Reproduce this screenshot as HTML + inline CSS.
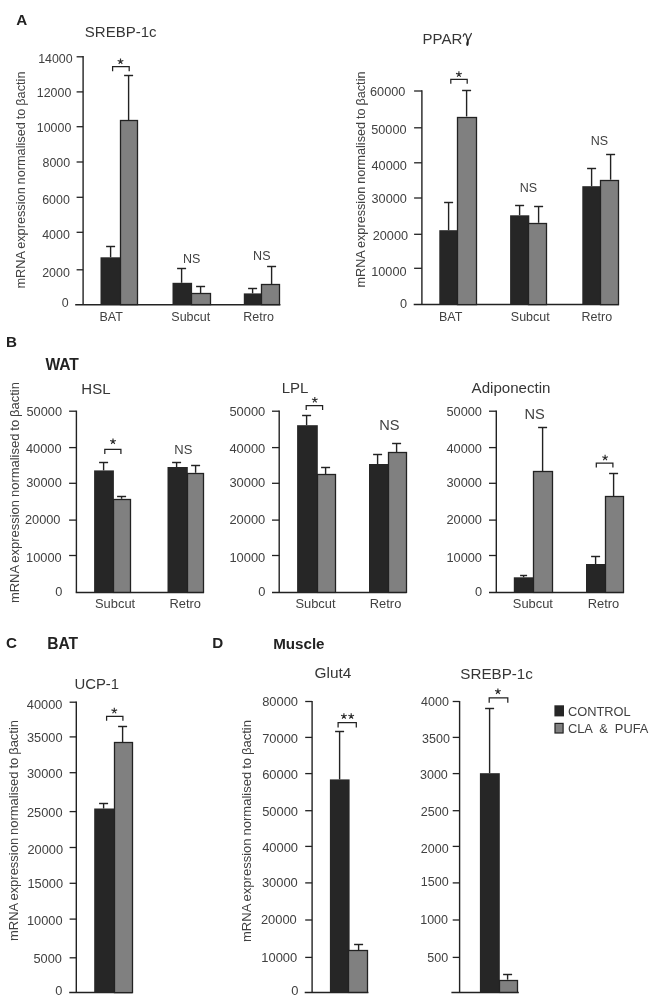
<!DOCTYPE html>
<html><head><meta charset="utf-8"><title>Figure</title>
<style>
html,body{margin:0;padding:0;background:#fff;}
svg{display:block;will-change:transform;font-family:"Liberation Sans",sans-serif;}
</style></head>
<body>
<svg width="658" height="1000" viewBox="0 0 658 1000">
<rect width="658" height="1000" fill="#fff"/>
<text x="16.2" y="24.8" font-size="15.2" text-anchor="start" font-weight="bold" fill="#222222" >A</text>
<text x="84.8" y="37.3" font-size="15" text-anchor="start" font-weight="normal" fill="#363636" >SREBP-1c</text>
<line x1="83.1" y1="56.1" x2="83.1" y2="304.7" stroke="#222222" stroke-width="1.4"/>
<line x1="76.6" y1="56.8" x2="83.1" y2="56.8" stroke="#222222" stroke-width="1.3"/>
<line x1="76.6" y1="91.9" x2="83.1" y2="91.9" stroke="#222222" stroke-width="1.3"/>
<line x1="76.6" y1="126.7" x2="83.1" y2="126.7" stroke="#222222" stroke-width="1.3"/>
<line x1="76.6" y1="162.0" x2="83.1" y2="162.0" stroke="#222222" stroke-width="1.3"/>
<line x1="76.6" y1="197.3" x2="83.1" y2="197.3" stroke="#222222" stroke-width="1.3"/>
<line x1="76.6" y1="232.3" x2="83.1" y2="232.3" stroke="#222222" stroke-width="1.3"/>
<line x1="76.6" y1="269.8" x2="83.1" y2="269.8" stroke="#222222" stroke-width="1.3"/>
<line x1="75.2" y1="304.7" x2="280.4" y2="304.7" stroke="#222222" stroke-width="1.5"/>
<text x="72.6" y="62.8" font-size="12.4" text-anchor="end" font-weight="normal" fill="#414141" >14000</text>
<text x="71.3" y="96.5" font-size="12.4" text-anchor="end" font-weight="normal" fill="#414141" >12000</text>
<text x="71.3" y="131.7" font-size="12.4" text-anchor="end" font-weight="normal" fill="#414141" >10000</text>
<text x="70.1" y="167.0" font-size="12.4" text-anchor="end" font-weight="normal" fill="#414141" >8000</text>
<text x="69.8" y="203.6" font-size="12.4" text-anchor="end" font-weight="normal" fill="#414141" >6000</text>
<text x="69.8" y="238.8" font-size="12.4" text-anchor="end" font-weight="normal" fill="#414141" >4000</text>
<text x="69.8" y="277.1" font-size="12.4" text-anchor="end" font-weight="normal" fill="#414141" >2000</text>
<text x="68.7" y="306.9" font-size="12.4" text-anchor="end" font-weight="normal" fill="#414141" >0</text>
<text transform="translate(25.0 180.0) rotate(-90)" font-size="12" word-spacing="-0.6" text-anchor="middle" fill="#414141" textLength="217" lengthAdjust="spacingAndGlyphs">mRNA expression normalised to βactin</text>
<rect x="100.5" y="257.3" width="20.2" height="47.3" fill="#262626"/>
<rect x="120.5" y="120.5" width="17.0" height="184.1" fill="#808080" stroke="#222222" stroke-width="1.3"/>
<line x1="110.6" y1="246.5" x2="110.6" y2="257.3" stroke="#222222" stroke-width="1.4"/>
<line x1="106.1" y1="246.5" x2="115.1" y2="246.5" stroke="#222222" stroke-width="1.45"/>
<line x1="128.6" y1="75.5" x2="128.6" y2="120.0" stroke="#222222" stroke-width="1.4"/>
<line x1="124.1" y1="75.5" x2="133.1" y2="75.5" stroke="#222222" stroke-width="1.45"/>
<path d="M112.6 71.3V66.6H129.2V71.3" fill="none" stroke="#222222" stroke-width="1.25"/>
<path d="M120.50 61.40L120.50 58.40M120.50 61.40L123.35 60.47M120.50 61.40L122.26 63.83M120.50 61.40L118.74 63.83M120.50 61.40L117.65 60.47" fill="none" stroke="#2e2e2e" stroke-width="1.15"/>
<text x="99.5" y="320.5" font-size="12.5" text-anchor="start" font-weight="normal" fill="#414141" >BAT</text>
<rect x="172.5" y="282.8" width="19.6" height="21.8" fill="#262626"/>
<rect x="191.5" y="293.5" width="19.0" height="11.1" fill="#808080" stroke="#222222" stroke-width="1.3"/>
<line x1="181.6" y1="268.5" x2="181.6" y2="282.8" stroke="#222222" stroke-width="1.4"/>
<line x1="177.1" y1="268.5" x2="186.1" y2="268.5" stroke="#222222" stroke-width="1.45"/>
<line x1="200.6" y1="286.5" x2="200.6" y2="293.4" stroke="#222222" stroke-width="1.4"/>
<line x1="196.1" y1="286.5" x2="205.1" y2="286.5" stroke="#222222" stroke-width="1.45"/>
<text x="191.6" y="262.8" font-size="12.5" text-anchor="middle" font-weight="normal" fill="#414141" >NS</text>
<text x="171.3" y="320.5" font-size="12.5" text-anchor="start" font-weight="normal" fill="#414141" >Subcut</text>
<rect x="243.8" y="293.4" width="18.7" height="11.2" fill="#262626"/>
<rect x="261.5" y="284.5" width="18.0" height="20.1" fill="#808080" stroke="#222222" stroke-width="1.3"/>
<line x1="252.6" y1="288.5" x2="252.6" y2="293.4" stroke="#222222" stroke-width="1.4"/>
<line x1="248.1" y1="288.5" x2="257.1" y2="288.5" stroke="#222222" stroke-width="1.45"/>
<line x1="271.6" y1="266.5" x2="271.6" y2="284.3" stroke="#222222" stroke-width="1.4"/>
<line x1="267.1" y1="266.5" x2="276.1" y2="266.5" stroke="#222222" stroke-width="1.45"/>
<text x="261.8" y="259.8" font-size="12.5" text-anchor="middle" font-weight="normal" fill="#414141" >NS</text>
<text x="243.3" y="320.5" font-size="12.5" text-anchor="start" font-weight="normal" fill="#414141" >Retro</text>
<text x="422.6" y="44.3" font-size="15" text-anchor="start" font-weight="normal" fill="#363636" >PPAR</text>
<path d="M463.3 36.2C463.5 33.4 465.6 32.9 466.3 35.4L467.9 41.6M471.4 33.5L467.7 41.6" fill="none" stroke="#333" stroke-width="1.25" stroke-linecap="round"/>
<path d="M467.8 39.8C469.4 42.4 468.8 45.8 467.3 46C465.7 45.8 465.9 42.4 467.8 39.8Z" fill="#222"/>
<line x1="421.9" y1="90.3" x2="421.9" y2="304.5" stroke="#222222" stroke-width="1.4"/>
<line x1="414.1" y1="91.0" x2="421.9" y2="91.0" stroke="#222222" stroke-width="1.3"/>
<line x1="414.1" y1="127.8" x2="421.9" y2="127.8" stroke="#222222" stroke-width="1.3"/>
<line x1="414.1" y1="162.8" x2="421.9" y2="162.8" stroke="#222222" stroke-width="1.3"/>
<line x1="414.1" y1="198.0" x2="421.9" y2="198.0" stroke="#222222" stroke-width="1.3"/>
<line x1="414.1" y1="234.3" x2="421.9" y2="234.3" stroke="#222222" stroke-width="1.3"/>
<line x1="414.1" y1="268.3" x2="421.9" y2="268.3" stroke="#222222" stroke-width="1.3"/>
<line x1="413.7" y1="304.5" x2="618.9" y2="304.5" stroke="#222222" stroke-width="1.5"/>
<text x="405.3" y="95.8" font-size="12.7" text-anchor="end" font-weight="normal" fill="#414141" >60000</text>
<text x="406.5" y="133.5" font-size="12.7" text-anchor="end" font-weight="normal" fill="#414141" >50000</text>
<text x="406.8" y="169.5" font-size="12.7" text-anchor="end" font-weight="normal" fill="#414141" >40000</text>
<text x="406.8" y="203.2" font-size="12.7" text-anchor="end" font-weight="normal" fill="#414141" >30000</text>
<text x="408.0" y="239.5" font-size="12.7" text-anchor="end" font-weight="normal" fill="#414141" >20000</text>
<text x="406.5" y="276.4" font-size="12.7" text-anchor="end" font-weight="normal" fill="#414141" >10000</text>
<text x="407.0" y="308.0" font-size="12.7" text-anchor="end" font-weight="normal" fill="#414141" >0</text>
<text transform="translate(365.2 179.5) rotate(-90)" font-size="12" word-spacing="-0.6" text-anchor="middle" fill="#414141" textLength="216" lengthAdjust="spacingAndGlyphs">mRNA expression normalised to βactin</text>
<rect x="439.3" y="230.2" width="18.8" height="74.4" fill="#262626"/>
<rect x="457.5" y="117.5" width="19.0" height="187.1" fill="#808080" stroke="#222222" stroke-width="1.3"/>
<line x1="448.6" y1="202.5" x2="448.6" y2="230.2" stroke="#222222" stroke-width="1.4"/>
<line x1="444.1" y1="202.5" x2="453.1" y2="202.5" stroke="#222222" stroke-width="1.45"/>
<line x1="466.6" y1="90.5" x2="466.6" y2="116.5" stroke="#222222" stroke-width="1.4"/>
<line x1="462.1" y1="90.5" x2="471.1" y2="90.5" stroke="#222222" stroke-width="1.45"/>
<path d="M450.8 83.7V79.4H467.2V83.7" fill="none" stroke="#222222" stroke-width="1.25"/>
<path d="M458.90 74.30L458.90 71.30M458.90 74.30L461.75 73.37M458.90 74.30L460.66 76.73M458.90 74.30L457.14 76.73M458.90 74.30L456.05 73.37" fill="none" stroke="#2e2e2e" stroke-width="1.15"/>
<text x="439.0" y="321.0" font-size="12.5" text-anchor="start" font-weight="normal" fill="#414141" >BAT</text>
<rect x="510.1" y="215.3" width="19.2" height="89.3" fill="#262626"/>
<rect x="528.5" y="223.5" width="18.0" height="81.1" fill="#808080" stroke="#222222" stroke-width="1.3"/>
<line x1="519.6" y1="205.5" x2="519.6" y2="215.3" stroke="#222222" stroke-width="1.4"/>
<line x1="515.1" y1="205.5" x2="524.1" y2="205.5" stroke="#222222" stroke-width="1.45"/>
<line x1="538.6" y1="206.5" x2="538.6" y2="222.8" stroke="#222222" stroke-width="1.4"/>
<line x1="534.1" y1="206.5" x2="543.1" y2="206.5" stroke="#222222" stroke-width="1.45"/>
<text x="528.5" y="192.0" font-size="12.5" text-anchor="middle" font-weight="normal" fill="#414141" >NS</text>
<text x="510.8" y="321.0" font-size="12.5" text-anchor="start" font-weight="normal" fill="#414141" >Subcut</text>
<rect x="582.3" y="186.2" width="18.8" height="118.4" fill="#262626"/>
<rect x="600.5" y="180.5" width="18.0" height="124.1" fill="#808080" stroke="#222222" stroke-width="1.3"/>
<line x1="591.6" y1="168.5" x2="591.6" y2="186.2" stroke="#222222" stroke-width="1.4"/>
<line x1="587.1" y1="168.5" x2="596.1" y2="168.5" stroke="#222222" stroke-width="1.45"/>
<line x1="610.6" y1="154.5" x2="610.6" y2="179.7" stroke="#222222" stroke-width="1.4"/>
<line x1="606.1" y1="154.5" x2="615.1" y2="154.5" stroke="#222222" stroke-width="1.45"/>
<text x="599.5" y="145.4" font-size="12.5" text-anchor="middle" font-weight="normal" fill="#414141" >NS</text>
<text x="581.6" y="321.0" font-size="12.5" text-anchor="start" font-weight="normal" fill="#414141" >Retro</text>
<text x="5.9" y="347.2" font-size="15.2" text-anchor="start" font-weight="bold" fill="#222222" >B</text>
<text x="45.4" y="370.0" font-size="15.6" text-anchor="start" font-weight="bold" fill="#222222" >WAT</text>
<text x="81.3" y="394.4" font-size="15" text-anchor="start" font-weight="normal" fill="#363636" >HSL</text>
<line x1="76.4" y1="410.6" x2="76.4" y2="592.4" stroke="#222222" stroke-width="1.4"/>
<line x1="69.1" y1="411.2" x2="76.4" y2="411.2" stroke="#222222" stroke-width="1.3"/>
<line x1="69.1" y1="447.6" x2="76.4" y2="447.6" stroke="#222222" stroke-width="1.3"/>
<line x1="69.1" y1="483.3" x2="76.4" y2="483.3" stroke="#222222" stroke-width="1.3"/>
<line x1="69.1" y1="520.1" x2="76.4" y2="520.1" stroke="#222222" stroke-width="1.3"/>
<line x1="69.1" y1="555.5" x2="76.4" y2="555.5" stroke="#222222" stroke-width="1.3"/>
<line x1="75.7" y1="592.4" x2="204.0" y2="592.4" stroke="#222222" stroke-width="1.5"/>
<text x="62.1" y="416.4" font-size="12.8" text-anchor="end" font-weight="normal" fill="#414141" >50000</text>
<text x="61.6" y="452.8" font-size="12.8" text-anchor="end" font-weight="normal" fill="#414141" >40000</text>
<text x="61.8" y="487.2" font-size="12.8" text-anchor="end" font-weight="normal" fill="#414141" >30000</text>
<text x="60.5" y="524.3" font-size="12.8" text-anchor="end" font-weight="normal" fill="#414141" >20000</text>
<text x="61.7" y="562.0" font-size="12.8" text-anchor="end" font-weight="normal" fill="#414141" >10000</text>
<text x="62.4" y="595.6" font-size="12.8" text-anchor="end" font-weight="normal" fill="#414141" >0</text>
<text transform="translate(18.5 492.6) rotate(-90)" font-size="12" word-spacing="-0.6" text-anchor="middle" fill="#414141" textLength="221" lengthAdjust="spacingAndGlyphs">mRNA expression normalised to βactin</text>
<rect x="94.1" y="470.4" width="19.8" height="122.0" fill="#262626"/>
<rect x="113.5" y="499.5" width="17.0" height="92.9" fill="#808080" stroke="#222222" stroke-width="1.3"/>
<line x1="103.6" y1="462.5" x2="103.6" y2="470.4" stroke="#222222" stroke-width="1.4"/>
<line x1="99.1" y1="462.5" x2="108.1" y2="462.5" stroke="#222222" stroke-width="1.45"/>
<line x1="121.6" y1="496.5" x2="121.6" y2="498.8" stroke="#222222" stroke-width="1.4"/>
<line x1="117.1" y1="496.5" x2="126.1" y2="496.5" stroke="#222222" stroke-width="1.45"/>
<path d="M104.8 453.9V449.4H120.9V453.9" fill="none" stroke="#222222" stroke-width="1.25"/>
<path d="M113.00 441.40L113.00 438.40M113.00 441.40L115.85 440.47M113.00 441.40L114.76 443.83M113.00 441.40L111.24 443.83M113.00 441.40L110.15 440.47" fill="none" stroke="#2e2e2e" stroke-width="1.15"/>
<rect x="167.5" y="467.0" width="20.3" height="125.4" fill="#262626"/>
<rect x="187.5" y="473.5" width="16.0" height="118.9" fill="#808080" stroke="#222222" stroke-width="1.3"/>
<line x1="176.6" y1="462.5" x2="176.6" y2="467.0" stroke="#222222" stroke-width="1.4"/>
<line x1="172.1" y1="462.5" x2="181.1" y2="462.5" stroke="#222222" stroke-width="1.45"/>
<line x1="195.6" y1="465.5" x2="195.6" y2="472.8" stroke="#222222" stroke-width="1.4"/>
<line x1="191.1" y1="465.5" x2="200.1" y2="465.5" stroke="#222222" stroke-width="1.45"/>
<text x="183.3" y="454.4" font-size="13" text-anchor="middle" font-weight="normal" fill="#414141" >NS</text>
<text x="95.0" y="607.5" font-size="12.9" text-anchor="start" font-weight="normal" fill="#414141" >Subcut</text>
<text x="169.5" y="607.5" font-size="12.9" text-anchor="start" font-weight="normal" fill="#414141" >Retro</text>
<text x="281.7" y="392.7" font-size="15" text-anchor="start" font-weight="normal" fill="#363636" >LPL</text>
<line x1="279.2" y1="410.6" x2="279.2" y2="592.4" stroke="#222222" stroke-width="1.4"/>
<line x1="272.0" y1="411.2" x2="279.2" y2="411.2" stroke="#222222" stroke-width="1.3"/>
<line x1="272.0" y1="447.6" x2="279.2" y2="447.6" stroke="#222222" stroke-width="1.3"/>
<line x1="272.0" y1="483.3" x2="279.2" y2="483.3" stroke="#222222" stroke-width="1.3"/>
<line x1="272.0" y1="520.1" x2="279.2" y2="520.1" stroke="#222222" stroke-width="1.3"/>
<line x1="272.0" y1="555.5" x2="279.2" y2="555.5" stroke="#222222" stroke-width="1.3"/>
<line x1="272.0" y1="592.4" x2="406.6" y2="592.4" stroke="#222222" stroke-width="1.5"/>
<text x="265.3" y="416.4" font-size="12.9" text-anchor="end" font-weight="normal" fill="#414141" >50000</text>
<text x="265.3" y="452.8" font-size="12.9" text-anchor="end" font-weight="normal" fill="#414141" >40000</text>
<text x="265.3" y="487.2" font-size="12.9" text-anchor="end" font-weight="normal" fill="#414141" >30000</text>
<text x="265.3" y="524.3" font-size="12.9" text-anchor="end" font-weight="normal" fill="#414141" >20000</text>
<text x="265.3" y="562.0" font-size="12.9" text-anchor="end" font-weight="normal" fill="#414141" >10000</text>
<text x="265.3" y="595.6" font-size="12.9" text-anchor="end" font-weight="normal" fill="#414141" >0</text>
<rect x="297.1" y="425.2" width="20.7" height="167.2" fill="#262626"/>
<rect x="317.5" y="474.5" width="18.0" height="117.9" fill="#808080" stroke="#222222" stroke-width="1.3"/>
<line x1="306.6" y1="415.5" x2="306.6" y2="425.2" stroke="#222222" stroke-width="1.4"/>
<line x1="302.1" y1="415.5" x2="311.1" y2="415.5" stroke="#222222" stroke-width="1.45"/>
<line x1="325.6" y1="467.5" x2="325.6" y2="474.3" stroke="#222222" stroke-width="1.4"/>
<line x1="321.1" y1="467.5" x2="330.1" y2="467.5" stroke="#222222" stroke-width="1.45"/>
<path d="M306.2 409.9V405.5H322.6V409.9" fill="none" stroke="#222222" stroke-width="1.25"/>
<path d="M314.80 400.00L314.80 397.00M314.80 400.00L317.65 399.07M314.80 400.00L316.56 402.43M314.80 400.00L313.04 402.43M314.80 400.00L311.95 399.07" fill="none" stroke="#2e2e2e" stroke-width="1.15"/>
<rect x="369.0" y="464.0" width="20.1" height="128.4" fill="#262626"/>
<rect x="388.5" y="452.5" width="18.0" height="139.9" fill="#808080" stroke="#222222" stroke-width="1.3"/>
<line x1="377.6" y1="454.5" x2="377.6" y2="464.0" stroke="#222222" stroke-width="1.4"/>
<line x1="373.1" y1="454.5" x2="382.1" y2="454.5" stroke="#222222" stroke-width="1.45"/>
<line x1="396.6" y1="443.5" x2="396.6" y2="452.0" stroke="#222222" stroke-width="1.4"/>
<line x1="392.1" y1="443.5" x2="401.1" y2="443.5" stroke="#222222" stroke-width="1.45"/>
<text x="389.4" y="430.4" font-size="14.6" text-anchor="middle" font-weight="normal" fill="#414141" >NS</text>
<text x="295.4" y="607.6" font-size="12.9" text-anchor="start" font-weight="normal" fill="#414141" >Subcut</text>
<text x="369.8" y="607.6" font-size="12.9" text-anchor="start" font-weight="normal" fill="#414141" >Retro</text>
<text x="471.6" y="392.8" font-size="15.1" text-anchor="start" font-weight="normal" fill="#363636" >Adiponectin</text>
<line x1="496.3" y1="410.6" x2="496.3" y2="592.4" stroke="#222222" stroke-width="1.4"/>
<line x1="489.0" y1="411.2" x2="496.3" y2="411.2" stroke="#222222" stroke-width="1.3"/>
<line x1="489.0" y1="447.6" x2="496.3" y2="447.6" stroke="#222222" stroke-width="1.3"/>
<line x1="489.0" y1="483.3" x2="496.3" y2="483.3" stroke="#222222" stroke-width="1.3"/>
<line x1="489.0" y1="520.1" x2="496.3" y2="520.1" stroke="#222222" stroke-width="1.3"/>
<line x1="489.0" y1="555.5" x2="496.3" y2="555.5" stroke="#222222" stroke-width="1.3"/>
<line x1="489.0" y1="592.4" x2="624.0" y2="592.4" stroke="#222222" stroke-width="1.5"/>
<text x="482.0" y="416.4" font-size="12.8" text-anchor="end" font-weight="normal" fill="#414141" >50000</text>
<text x="482.0" y="452.8" font-size="12.8" text-anchor="end" font-weight="normal" fill="#414141" >40000</text>
<text x="482.0" y="487.2" font-size="12.8" text-anchor="end" font-weight="normal" fill="#414141" >30000</text>
<text x="482.0" y="524.3" font-size="12.8" text-anchor="end" font-weight="normal" fill="#414141" >20000</text>
<text x="482.0" y="562.0" font-size="12.8" text-anchor="end" font-weight="normal" fill="#414141" >10000</text>
<text x="482.0" y="595.6" font-size="12.8" text-anchor="end" font-weight="normal" fill="#414141" >0</text>
<rect x="513.8" y="577.3" width="20.0" height="15.1" fill="#262626"/>
<rect x="533.5" y="471.5" width="19.0" height="120.9" fill="#808080" stroke="#222222" stroke-width="1.3"/>
<line x1="523.6" y1="575.5" x2="523.6" y2="577.3" stroke="#222222" stroke-width="1.4"/>
<line x1="520.1" y1="575.5" x2="527.1" y2="575.5" stroke="#222222" stroke-width="1.45"/>
<line x1="542.6" y1="427.5" x2="542.6" y2="471.0" stroke="#222222" stroke-width="1.4"/>
<line x1="538.1" y1="427.5" x2="547.1" y2="427.5" stroke="#222222" stroke-width="1.45"/>
<text x="534.7" y="419.3" font-size="14.6" text-anchor="middle" font-weight="normal" fill="#414141" >NS</text>
<rect x="586.0" y="564.0" width="19.8" height="28.4" fill="#262626"/>
<rect x="605.5" y="496.5" width="18.0" height="95.9" fill="#808080" stroke="#222222" stroke-width="1.3"/>
<line x1="595.6" y1="556.5" x2="595.6" y2="564.0" stroke="#222222" stroke-width="1.4"/>
<line x1="591.1" y1="556.5" x2="600.1" y2="556.5" stroke="#222222" stroke-width="1.45"/>
<line x1="613.6" y1="473.5" x2="613.6" y2="496.4" stroke="#222222" stroke-width="1.4"/>
<line x1="609.1" y1="473.5" x2="618.1" y2="473.5" stroke="#222222" stroke-width="1.45"/>
<path d="M596.3 467.6V463.2H612.9V467.6" fill="none" stroke="#222222" stroke-width="1.25"/>
<path d="M605.10 457.70L605.10 454.70M605.10 457.70L607.95 456.77M605.10 457.70L606.86 460.13M605.10 457.70L603.34 460.13M605.10 457.70L602.25 456.77" fill="none" stroke="#2e2e2e" stroke-width="1.15"/>
<text x="512.8" y="607.6" font-size="12.9" text-anchor="start" font-weight="normal" fill="#414141" >Subcut</text>
<text x="587.7" y="607.6" font-size="12.9" text-anchor="start" font-weight="normal" fill="#414141" >Retro</text>
<text x="6.1" y="647.6" font-size="15.2" text-anchor="start" font-weight="bold" fill="#222222" >C</text>
<text x="47.2" y="648.9" font-size="15.6" text-anchor="start" font-weight="bold" fill="#222222" >BAT</text>
<text x="74.4" y="689.0" font-size="14.9" text-anchor="start" font-weight="normal" fill="#363636" >UCP-1</text>
<line x1="76.3" y1="701.6" x2="76.3" y2="992.6" stroke="#222222" stroke-width="1.4"/>
<line x1="69.6" y1="702.2" x2="76.3" y2="702.2" stroke="#222222" stroke-width="1.3"/>
<line x1="69.6" y1="736.9" x2="76.3" y2="736.9" stroke="#222222" stroke-width="1.3"/>
<line x1="69.6" y1="772.7" x2="76.3" y2="772.7" stroke="#222222" stroke-width="1.3"/>
<line x1="69.6" y1="811.6" x2="76.3" y2="811.6" stroke="#222222" stroke-width="1.3"/>
<line x1="69.6" y1="847.5" x2="76.3" y2="847.5" stroke="#222222" stroke-width="1.3"/>
<line x1="69.6" y1="883.3" x2="76.3" y2="883.3" stroke="#222222" stroke-width="1.3"/>
<line x1="69.6" y1="919.1" x2="76.3" y2="919.1" stroke="#222222" stroke-width="1.3"/>
<line x1="69.6" y1="957.8" x2="76.3" y2="957.8" stroke="#222222" stroke-width="1.3"/>
<line x1="69.2" y1="992.6" x2="132.5" y2="992.6" stroke="#222222" stroke-width="1.5"/>
<text x="62.4" y="708.8" font-size="12.8" text-anchor="end" font-weight="normal" fill="#414141" >40000</text>
<text x="62.6" y="742.0" font-size="12.8" text-anchor="end" font-weight="normal" fill="#414141" >35000</text>
<text x="62.6" y="777.9" font-size="12.8" text-anchor="end" font-weight="normal" fill="#414141" >30000</text>
<text x="62.6" y="817.0" font-size="12.8" text-anchor="end" font-weight="normal" fill="#414141" >25000</text>
<text x="63.1" y="853.8" font-size="12.8" text-anchor="end" font-weight="normal" fill="#414141" >20000</text>
<text x="63.1" y="887.9" font-size="12.8" text-anchor="end" font-weight="normal" fill="#414141" >15000</text>
<text x="62.6" y="925.0" font-size="12.8" text-anchor="end" font-weight="normal" fill="#414141" >10000</text>
<text x="61.9" y="963.2" font-size="12.8" text-anchor="end" font-weight="normal" fill="#414141" >5000</text>
<text x="62.4" y="995.1" font-size="12.8" text-anchor="end" font-weight="normal" fill="#414141" >0</text>
<text transform="translate(18.2 830.5) rotate(-90)" font-size="12" word-spacing="-0.6" text-anchor="middle" fill="#414141" textLength="221" lengthAdjust="spacingAndGlyphs">mRNA expression normalised to βactin</text>
<rect x="94.2" y="808.5" width="20.8" height="184.1" fill="#262626"/>
<rect x="114.5" y="742.5" width="18.0" height="250.1" fill="#808080" stroke="#222222" stroke-width="1.3"/>
<line x1="103.6" y1="803.5" x2="103.6" y2="808.5" stroke="#222222" stroke-width="1.4"/>
<line x1="99.1" y1="803.5" x2="108.1" y2="803.5" stroke="#222222" stroke-width="1.45"/>
<line x1="122.6" y1="726.5" x2="122.6" y2="742.8" stroke="#222222" stroke-width="1.4"/>
<line x1="118.1" y1="726.5" x2="127.1" y2="726.5" stroke="#222222" stroke-width="1.45"/>
<path d="M106.6 720.7V716.3H122.9V720.7" fill="none" stroke="#222222" stroke-width="1.25"/>
<path d="M114.30 710.80L114.30 707.80M114.30 710.80L117.15 709.87M114.30 710.80L116.06 713.23M114.30 710.80L112.54 713.23M114.30 710.80L111.45 709.87" fill="none" stroke="#2e2e2e" stroke-width="1.15"/>
<text x="212.3" y="647.6" font-size="15.2" text-anchor="start" font-weight="bold" fill="#222222" >D</text>
<text x="273.2" y="649.0" font-size="15.15" text-anchor="start" font-weight="bold" fill="#222222" >Muscle</text>
<text x="314.5" y="677.5" font-size="15.4" text-anchor="start" font-weight="normal" fill="#363636" >Glut4</text>
<line x1="312.1" y1="700.9" x2="312.1" y2="992.4" stroke="#222222" stroke-width="1.4"/>
<line x1="305.2" y1="701.5" x2="312.1" y2="701.5" stroke="#222222" stroke-width="1.3"/>
<line x1="305.2" y1="737.4" x2="312.1" y2="737.4" stroke="#222222" stroke-width="1.3"/>
<line x1="305.2" y1="773.6" x2="312.1" y2="773.6" stroke="#222222" stroke-width="1.3"/>
<line x1="305.2" y1="810.7" x2="312.1" y2="810.7" stroke="#222222" stroke-width="1.3"/>
<line x1="305.2" y1="846.4" x2="312.1" y2="846.4" stroke="#222222" stroke-width="1.3"/>
<line x1="305.2" y1="882.9" x2="312.1" y2="882.9" stroke="#222222" stroke-width="1.3"/>
<line x1="305.2" y1="920.0" x2="312.1" y2="920.0" stroke="#222222" stroke-width="1.3"/>
<line x1="305.2" y1="957.4" x2="312.1" y2="957.4" stroke="#222222" stroke-width="1.3"/>
<line x1="304.7" y1="992.4" x2="368.4" y2="992.4" stroke="#222222" stroke-width="1.5"/>
<text x="298.0" y="706.4" font-size="12.9" text-anchor="end" font-weight="normal" fill="#414141" >80000</text>
<text x="298.0" y="742.9" font-size="12.9" text-anchor="end" font-weight="normal" fill="#414141" >70000</text>
<text x="298.0" y="778.5" font-size="12.9" text-anchor="end" font-weight="normal" fill="#414141" >60000</text>
<text x="298.0" y="815.8" font-size="12.9" text-anchor="end" font-weight="normal" fill="#414141" >50000</text>
<text x="298.0" y="852.3" font-size="12.9" text-anchor="end" font-weight="normal" fill="#414141" >40000</text>
<text x="297.8" y="886.6" font-size="12.9" text-anchor="end" font-weight="normal" fill="#414141" >30000</text>
<text x="296.8" y="923.7" font-size="12.9" text-anchor="end" font-weight="normal" fill="#414141" >20000</text>
<text x="297.2" y="961.7" font-size="12.9" text-anchor="end" font-weight="normal" fill="#414141" >10000</text>
<text x="298.3" y="995.1" font-size="12.9" text-anchor="end" font-weight="normal" fill="#414141" >0</text>
<text transform="translate(250.7 831.0) rotate(-90)" font-size="12" word-spacing="-0.6" text-anchor="middle" fill="#414141" textLength="222" lengthAdjust="spacingAndGlyphs">mRNA expression normalised to βactin</text>
<rect x="329.9" y="779.4" width="19.7" height="213.0" fill="#262626"/>
<rect x="348.5" y="950.5" width="19.0" height="41.9" fill="#808080" stroke="#222222" stroke-width="1.3"/>
<line x1="339.6" y1="731.5" x2="339.6" y2="779.4" stroke="#222222" stroke-width="1.4"/>
<line x1="335.1" y1="731.5" x2="344.1" y2="731.5" stroke="#222222" stroke-width="1.45"/>
<line x1="358.6" y1="944.5" x2="358.6" y2="950.4" stroke="#222222" stroke-width="1.4"/>
<line x1="354.1" y1="944.5" x2="363.1" y2="944.5" stroke="#222222" stroke-width="1.45"/>
<path d="M338.1 727.4V722.5H356.3V727.4" fill="none" stroke="#222222" stroke-width="1.25"/>
<path d="M343.90 716.20L343.90 713.20M343.90 716.20L346.75 715.27M343.90 716.20L345.66 718.63M343.90 716.20L342.14 718.63M343.90 716.20L341.05 715.27" fill="none" stroke="#2e2e2e" stroke-width="1.15"/>
<path d="M351.20 716.20L351.20 713.20M351.20 716.20L354.05 715.27M351.20 716.20L352.96 718.63M351.20 716.20L349.44 718.63M351.20 716.20L348.35 715.27" fill="none" stroke="#2e2e2e" stroke-width="1.15"/>
<text x="460.3" y="678.8" font-size="15.2" text-anchor="start" font-weight="normal" fill="#363636" >SREBP-1c</text>
<line x1="459.6" y1="700.9" x2="459.6" y2="992.4" stroke="#222222" stroke-width="1.4"/>
<line x1="452.7" y1="701.5" x2="459.6" y2="701.5" stroke="#222222" stroke-width="1.3"/>
<line x1="452.7" y1="737.4" x2="459.6" y2="737.4" stroke="#222222" stroke-width="1.3"/>
<line x1="452.7" y1="773.6" x2="459.6" y2="773.6" stroke="#222222" stroke-width="1.3"/>
<line x1="452.7" y1="810.7" x2="459.6" y2="810.7" stroke="#222222" stroke-width="1.3"/>
<line x1="452.7" y1="846.4" x2="459.6" y2="846.4" stroke="#222222" stroke-width="1.3"/>
<line x1="452.7" y1="882.9" x2="459.6" y2="882.9" stroke="#222222" stroke-width="1.3"/>
<line x1="452.7" y1="920.0" x2="459.6" y2="920.0" stroke="#222222" stroke-width="1.3"/>
<line x1="452.7" y1="957.4" x2="459.6" y2="957.4" stroke="#222222" stroke-width="1.3"/>
<line x1="451.4" y1="992.4" x2="518.8" y2="992.4" stroke="#222222" stroke-width="1.5"/>
<text x="448.9" y="706.4" font-size="12.5" text-anchor="end" font-weight="normal" fill="#414141" >4000</text>
<text x="449.9" y="742.5" font-size="12.5" text-anchor="end" font-weight="normal" fill="#414141" >3500</text>
<text x="447.8" y="778.5" font-size="12.5" text-anchor="end" font-weight="normal" fill="#414141" >3000</text>
<text x="448.6" y="815.8" font-size="12.5" text-anchor="end" font-weight="normal" fill="#414141" >2500</text>
<text x="448.6" y="852.6" font-size="12.5" text-anchor="end" font-weight="normal" fill="#414141" >2000</text>
<text x="448.6" y="886.3" font-size="12.5" text-anchor="end" font-weight="normal" fill="#414141" >1500</text>
<text x="448.0" y="923.7" font-size="12.5" text-anchor="end" font-weight="normal" fill="#414141" >1000</text>
<text x="448.1" y="961.7" font-size="12.5" text-anchor="end" font-weight="normal" fill="#414141" >500</text>
<rect x="479.9" y="773.2" width="19.9" height="219.2" fill="#262626"/>
<rect x="499.5" y="980.5" width="18.0" height="11.9" fill="#808080" stroke="#222222" stroke-width="1.3"/>
<line x1="489.6" y1="708.5" x2="489.6" y2="773.2" stroke="#222222" stroke-width="1.4"/>
<line x1="485.1" y1="708.5" x2="494.1" y2="708.5" stroke="#222222" stroke-width="1.45"/>
<line x1="507.6" y1="974.5" x2="507.6" y2="979.7" stroke="#222222" stroke-width="1.4"/>
<line x1="503.1" y1="974.5" x2="512.1" y2="974.5" stroke="#222222" stroke-width="1.45"/>
<path d="M489.2 702.8V697.9H507.8V702.8" fill="none" stroke="#222222" stroke-width="1.25"/>
<path d="M497.90 691.40L497.90 688.40M497.90 691.40L500.75 690.47M497.90 691.40L499.66 693.83M497.90 691.40L496.14 693.83M497.90 691.40L495.05 690.47" fill="none" stroke="#2e2e2e" stroke-width="1.15"/>
<rect x="554.4" y="705.3" width="9.6" height="11.1" fill="#262626"/>
<rect x="555" y="723.4" width="8.1" height="9.6" fill="#808080" stroke="#222222" stroke-width="1.2"/>
<text x="567.9" y="715.7" font-size="12.85" text-anchor="start" font-weight="normal" fill="#414141" >CONTROL</text>
<text x="567.9" y="733.2" font-size="12.85" text-anchor="start" font-weight="normal" fill="#414141" word-spacing="3.5">CLA &amp; PUFA</text>
</svg>
</body></html>
